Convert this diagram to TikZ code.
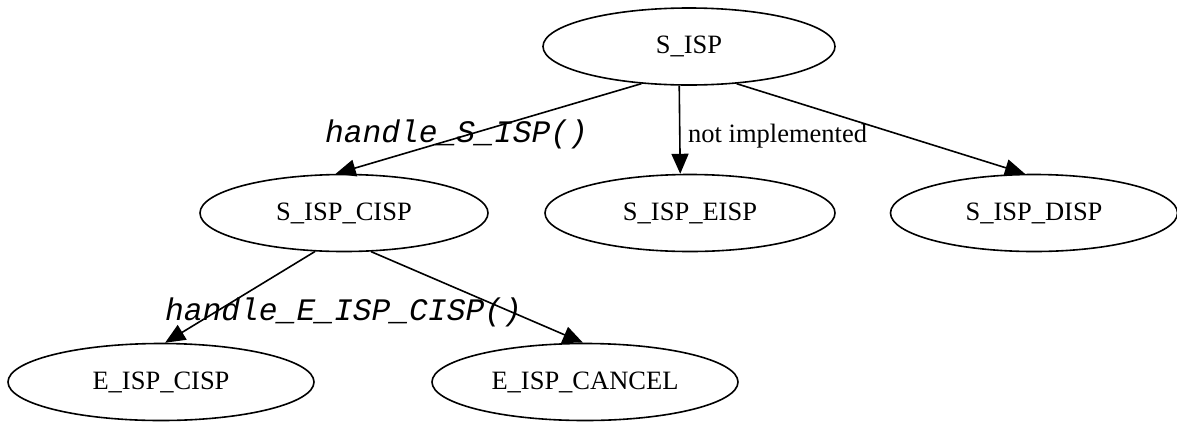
\documentclass[tikz,border=0pt]{standalone}
\usepackage{fontspec}
\setmainfont{Liberation Serif}
\newfontfamily\codefont{Liberation Mono}
\usetikzlibrary{shapes.geometric,arrows.meta}
\tikzset{
  state/.style={draw, ellipse, line width=1.6pt, inner sep=0pt,
    minimum height=77pt, font=\fontsize{26.5}{30}\selectfont},
  edgelabel/.style={inner sep=0pt, font=\fontsize{26.5}{30}\selectfont},
  codelabel/.style={inner sep=0pt, font=\codefont\itshape\fontsize{31.3}{36}\selectfont},
  trans/.style={line width=1.6pt, -{Triangle[length=20pt,width=17pt]}}
}
\begin{document}
\begin{tikzpicture}[x=1pt,y=-1pt]
\useasboundingbox (0,0) rectangle (1177,421);

% states
\node[state, minimum width=292pt] (sisp)  at (689,46.5) {S\_ISP};
\node[state, minimum width=288pt] (cisp)  at (344,213)  {S\_ISP\_CISP};
\node[state, minimum width=290pt] (eisp)  at (690,213)  {S\_ISP\_EISP};
\node[state, minimum width=287pt] (disp)  at (1034,213) {S\_ISP\_DISP};
\node[state, minimum width=306pt] (ecisp) at (161,382)  {E\_ISP\_CISP};
\node[state, minimum width=306pt] (ecan)  at (585,382)  {E\_ISP\_CANCEL};

% transitions
\draw[trans] (sisp.218) -- (cisp.102);
\draw[trans] (sisp.256.8) -- (eisp.104.7);
\draw[trans] (sisp.322.9) -- (disp.103);
\draw[trans] (cisp.233) -- (ecisp.84);
\draw[trans] (cisp.305) -- (ecan.93);

% transition labels
\node[codelabel, anchor=base] (l1) at (456.5,142) {handle\_S\_ISP()};
\node[edgelabel, anchor=base west] (l2) at (688,142) {not implemented};
\node[codelabel, anchor=base] (l3) at (343.5,320) {handle\_E\_ISP\_CISP()};
\end{tikzpicture}
\end{document}
